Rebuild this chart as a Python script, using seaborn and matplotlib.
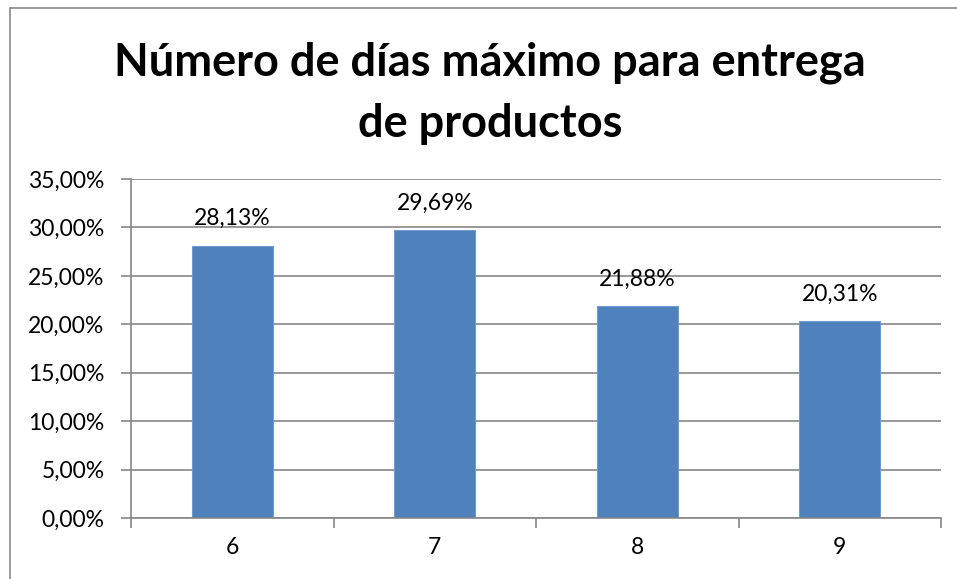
import matplotlib
matplotlib.use("Agg")
import matplotlib.pyplot as plt
import seaborn as sns
import pandas as pd
from matplotlib.lines import Line2D
from matplotlib.ticker import FuncFormatter, FixedLocator

# data
dias = ["6", "7", "8", "9"]
porcentajes = [0.2813, 0.2969, 0.2188, 0.2031]
etiquetas = ["28,13%", "29,69%", "21,88%", "20,31%"]
titulo = "Número de días máximo para entrega\nde productos"

sns.set_theme(style="white")
plt.rcParams["font.family"] = ["Lato", "DejaVu Sans"]

df = pd.DataFrame({"dias": dias, "pct": porcentajes})

fig = plt.figure(figsize=(9.57, 5.79), dpi=100)
ax = fig.add_axes([131 / 957, 1 - 518 / 579, (941 - 131) / 957, (518 - 179) / 579])

sns.barplot(data=df, x="dias", y="pct", color="#4F81BD", width=0.4,
            saturation=1, ax=ax, edgecolor="#6f9bd0", linewidth=0.8)

ax.set_ylim(0, 0.35)
ax.set_xlim(-0.5, 3.5)
ax.set_yticks([i * 0.05 for i in range(8)])
ax.yaxis.set_major_formatter(FuncFormatter(lambda v, p: f"{v * 100:.2f}%".replace(".", ",")))
ax.grid(axis="y", color="#868686", linewidth=1.2)
ax.set_axisbelow(True)
ax.set_xlabel("")
ax.set_ylabel("")

for s in ["top", "right"]:
    ax.spines[s].set_visible(False)
for s in ["left", "bottom"]:
    ax.spines[s].set_color("#868686")
    ax.spines[s].set_linewidth(1.2)

ax.tick_params(axis="y", left=True, length=7, width=1.2, color="#868686",
               labelsize=16.5, pad=12, labelcolor="black")
ax.tick_params(axis="x", which="major", length=0, labelsize=16.5, pad=14, labelcolor="black")
ax.xaxis.set_minor_locator(FixedLocator([-0.5, 0.5, 1.5, 2.5, 3.5]))
ax.tick_params(axis="x", which="minor", bottom=True, length=7, width=1.2, color="#868686")

ax.bar_label(ax.containers[0], labels=etiquetas, padding=12, fontsize=16.5, color="black")

fig.suptitle(titulo, x=490 / 957, y=1 - 42 / 579, fontsize=32.5, fontweight="bold",
             linespacing=1.55, va="top", color="black")

# chart border (cropped on right and bottom)
bx, by = 10 / 957, 1 - 8 / 579
fig.add_artist(Line2D([bx, bx], [0, by], color="#888888", linewidth=1.2))
fig.add_artist(Line2D([bx, 1], [by, by], color="#888888", linewidth=1.2))

fig.savefig("out.png", dpi=100)
